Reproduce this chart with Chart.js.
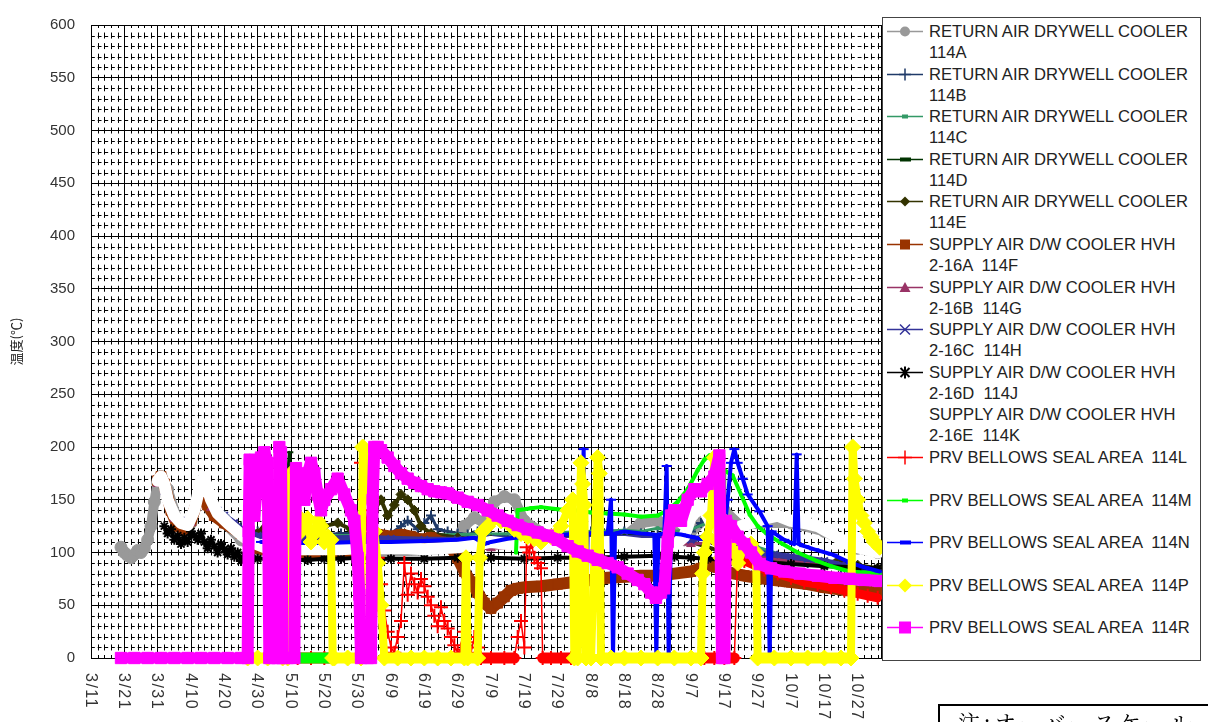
<!DOCTYPE html>
<html lang="ja">
<head>
<meta charset="UTF-8">
<title>温度(℃)</title>
<script src="https://cdn.jsdelivr.net/npm/chart.js"></script>
<style>
  html, body { margin: 0; padding: 0; background: #fff; overflow: hidden; }
  body { width: 1208px; height: 722px; position: relative; font-family: 'Liberation Sans', Arial, sans-serif; }
  #chart { position: absolute; left: 0; top: 0; }
  #legend { position: absolute; left: 882px; top: 17px; width: 319px; height: 644px; border: 1px solid #444; box-sizing: border-box; background: #fff; }
  .item { position: absolute; left: 4px; width: 310px; height: 42px; }
  .item svg { position: absolute; left: 0; top: 0; }
  .item span { position: absolute; left: 42px; top: 0; white-space: pre; font-size: 16.6px; line-height: 21px; color: #222; }
  #note { position: absolute; left: 938px; top: 704px; width: 300px; height: 40px; border: 2px solid #000; box-sizing: border-box;
          font-family: 'Noto Serif CJK JP', 'Noto Sans CJK JP', serif; font-size: 22px; line-height: 22px; letter-spacing: 3.4px;
          padding: 5px 0 0 18px; color: #000; white-space: nowrap; }
</style>
</head>
<body>
<canvas id="chart" width="1208" height="722"></canvas>
<div id="legend"></div>
<div id="note">注:オーバースケール</div>
<script>
// x axis = days since 3/11
const tickLabels = ['3/11','3/21','3/31','4/10','4/20','4/30','5/10','5/20','5/30','6/9','6/19','6/29',
                    '7/9','7/19','7/29','8/8','8/18','8/28','9/7','9/17','9/27','10/7','10/17','10/27'];
const tickDays = tickLabels.map((_, i) => i * 10);

const seriesNames = [
  'RETURN AIR DRYWELL COOLER\n114A',
  'RETURN AIR DRYWELL COOLER\n114B',
  'RETURN AIR DRYWELL COOLER\n114C',
  'RETURN AIR DRYWELL COOLER\n114D',
  'RETURN AIR DRYWELL COOLER\n114E',
  'SUPPLY AIR D/W COOLER HVH\n2-16A  114F',
  'SUPPLY AIR D/W COOLER HVH\n2-16B  114G',
  'SUPPLY AIR D/W COOLER HVH\n2-16C  114H',
  'SUPPLY AIR D/W COOLER HVH\n2-16D  114J',
  'SUPPLY AIR D/W COOLER HVH\n2-16E  114K',
  'PRV BELLOWS SEAL AREA  114L',
  'PRV BELLOWS SEAL AREA  114M',
  'PRV BELLOWS SEAL AREA  114N',
  'PRV BELLOWS SEAL AREA  114P',
  'PRV BELLOWS SEAL AREA  114R'
];

const days114A = [9,10,11,12,13,14,15,16,17,18,19,20,21,23,26,30,33,36,40,45,50,60,70,80,90,100,108,112,115,118,121,124,127,130,140,150,160,165,170,173,178,185,190,195,200,210,220,230,236];
const temp114A = [105,100,97,95,98,102,100,104,112,125,148,166,172,160,130,128,160,140,128,112,102,101,100,101,101,102,104,125,133,128,148,153,150,130,110,110,115,128,130,126,112,135,140,125,128,128,120,104,100];

const days114B = [40,45,50,55,60,65,70,75,80,85,88,90,93,95,98,100,102,104,107,110,113,116,120,125,130,135,140,145,150,155,160,165,170,175,180,183,185,188,190,193,196,200,205,210,215,220,225,230,236];
const temp114B = [135,124,120,118,119,115,117,118,118,120,115,118,125,130,122,128,135,122,120,118,117,120,116,115,114,115,115,118,120,118,120,118,117,116,120,128,135,145,130,120,110,100,95,92,90,88,85,83,80];

const days114C = [50,70,90,110,130,150,160,165,170,175,180,185,188,191,195,200,210,220,230,236];
const temp114C = [117,116,116,117,118,120,121,120,123,120,122,128,130,126,115,105,95,88,83,80];

const days114D = [45,50,55,57,58.5,59.5,60.5,62,66,70,80,90,100,110,120,130,140,150,160,170,180,190,200,210,220,230,236];
const temp114D = [118,115,116,120,150,195,150,116,115,114,115,114,115,113,114,114,115,115,116,116,115,112,100,93,88,84,82];

const days114E = [50,53,55,58,62,66,70,74,78,82,85,87,89,91,93,95,97,99,102,110,120,130,150,170,180,190,200,210,220,224,230,236];
const temp114E = [118,130,125,118,122,118,125,128,122,128,140,150,135,145,155,150,140,125,118,114,112,112,113,112,110,100,95,92,90,92,88,85];

const days114F = [20,21,22,24,26,28,30,32,33,35,37,40,45,50,55,60,70,78,80,84,90,93,96,99,102,105,108,110,112,114,116,118,120,122,124,126,128,130,135,140,145,150,155,160,165,170,175,180,183,185,188,190,193,196,200,205,210,215,220,225,230,236];
const temp114F = [168,172,165,140,125,122,130,150,165,145,135,128,118,104,101,100,100,101,122,118,115,117,115,112,114,110,105,95,82,72,62,52,47,52,58,64,66,67,68,70,72,74,76,77,78,78,80,82,85,88,86,82,80,78,76,74,72,70,67,65,63,62];

const days114G = [20,22,25,30,33,36,40,45,60,80,100,120,140,160,180,190,200,210,220,230,236];
const temp114G = [165,160,132,128,162,142,130,116,100,100,101,104,106,108,108,110,96,92,88,84,80];

const days114H = [22,24,26,28,30,32,34,36,38,40,43,46,50,60,70,80,90,100,110,120,130,140,150,160,170,180,185,190,195,200,205,210,215,220,225,230,236];
const temp114H = [158,145,132,130,135,155,165,148,140,135,128,120,116,114,113,114,113,112,112,113,112,112,113,114,113,112,115,118,105,100,98,96,94,92,88,85,82];

const days114J = [22,23,24,25,26,27,28,29,30,31,32,33,34,35,36,37,38,39,40,41,42,43,44,45,46,48,50,55,60,65,70,75,80,85,90,100,110,120,130,140,150,160,170,175,180,185,190,195,200,210,220,230,236];
const temp114J = [125,118,122,112,116,108,114,110,120,116,112,118,110,104,112,106,100,108,103,98,104,96,100,92,97,95,94,94,93,93,94,94,95,94,94,94,95,95,94,95,95,96,97,96,95,94,93,92,91,89,87,86,85];

const days114K = [20,21,22,23,25,27,29,31,33,34,36,38,41,45,48,52,56,60,65,70,75,80,85,90,95,100,105,110,115,120,125,130,135,140,145,150,155,160,165,170,175,178,180,182,184,186,188,190,192,195,198,202,206,210,214,218,222,226,230,236];
const temp114K = [168,172,165,150,135,128,126,140,168,170,150,137,128,117,110,105,104,103,103,103,103,104,104,104,104,103,104,105,107,110,108,106,107,108,108,109,110,110,108,108,107,115,135,145,140,128,120,115,112,125,128,132,135,130,128,125,118,110,105,100];

const days114L = [62,66,70,73,75,81,82,83,84,85,86,87,88,89,90,91,92,93,94,95,96,97,98,99,100,101,102,103,104,105,106,107,108,109,110,111,112,113,114,115,116,117,120,124,127,128,129,130,130.7,131.5,132,133,134,135,135.5,138,141,144,145,184,187,190,193,194,196,199,202,206,210,214,218,222,226,230,233,236];
const temp114L = [0,0,0,0,null,185,150,120,140,120,95,70,45,25,10,5,20,35,90,60,80,70,62,75,68,58,50,40,30,48,35,28,20,12,5,8,25,15,5,20,10,0,0,0,0,20,35,10,105,100,110,95,90,85,0,0,0,0,null,0,0,0,0,95,92,88,84,80,76,72,70,67,64,61,59,57];

const days114M = [62,66,70,73,75,127.5,128,132,135,140,145,150,155,160,165,170,173,176,179,182,184,185.6,188,189,189.5,190,192.5,195,197.6,200,203,207.5,212,217.7,222,227.6,232,236.6];
const temp114M = [0,0,0,0,null,100,140,142,143,141,140,138,137,136,134,135,140,148,160,178,188,192,185,180,0,178,173,155,136,125,117,108,100,92,87,82,81,80];

const days114N = [51,55,60,70,80,90,100,110,115,118,120,125,130,135,140,145,147,147.8,148.4,149,152,155,156,156.6,157.2,160,165,169,169.6,170.2,172,172.7,173.3,174,177,180,183,186,189,190,191,192,193,194,195.5,197,200.5,203,203.6,204.2,208,211,211.7,212.3,214,217,222.5,228,232,236.6];
const temp114N = [110,110,109,109,110,110,111,112,114,108,110,113,115,115,116,118,120,198,0,118,119,118,150,0,118,120,118,117,0,117,118,182,0,118,117,115,113,112,112,120,150,185,198,185,170,155,139,125,0,120,112,108,193,108,106,103,98,90,86,82];

const days114P = [47,50,53,53.5,57.5,59,59.5,60,61,62,63,64,65,66,67,68,69,70,71,72,72.5,73,77,81,81.5,82,83,84,85,86,87,88,92,96,100,104,108,112,112.5,113,116,116.6,117.5,119,121,123,125,127,129,131,133,135,138,141,143,144.5,145,146,147,147.5,148,148.5,150,152,152.5,153,156,160,165,170,175,180,183,183.5,184,185,186,187,187.5,188,189,190,191,192,193,194,196,198,199.5,200,205,210,215,220,225,228,228.5,229,230,231,232,233,234,235,236.6];
const temp114P = [0,0,0,null,0,0,150,175,160,135,120,125,132,110,118,130,125,110,115,112,0,0,0,0,200,198,180,150,120,90,50,0,0,0,0,0,0,0,95,0,0,95,120,125,133,130,128,122,118,115,113,110,115,125,140,150,0,0,185,165,145,0,0,190,175,0,0,0,0,0,0,0,0,80,100,115,135,190,150,110,95,130,120,110,100,90,105,108,100,0,0,0,0,0,0,0,200,170,150,135,128,120,115,110,105];

const days114R = [9,13,17,21,25,29,33,37,41,45,47,47.3,47.6,48,49,50,51,52,53,53.5,55,56,56.5,57,57.5,59,61,61.5,62,63,64,65,66,67,68,69,70,72,74,76,78,79,80,80.5,81,83,84,84.5,85,86,87,89,91,93,95,97,99,101,103,105,107,110,113,116,119,122,125,128,131,134,137,140,143,146,149,152,155,158,161,164,166,168,169.5,171,172,173,174,175,177,179,181,183,185,187,188.5,189.3,190,190.5,192,194,196,198,200.6,204,208,212.6,218,223,227.6,232,236.6];
const temp114R = [0,0,0,0,0,0,0,0,0,0,0,120,188,150,135,170,190,195,185,0,0,0,200,195,0,0,0,180,160,170,150,175,185,175,155,140,150,160,170,155,140,130,95,60,0,0,0,150,200,200,197,190,182,175,170,166,163,160,158,157,156,152,148,145,140,135,130,126,122,119,116,112,106,101,97,93,90,86,80,74,70,62,57,62,66,110,135,140,130,150,160,158,165,172,192,0,0,130,125,115,108,100,89,85,82,80,78,76,75,74,73];

const seriesDays = [days114A, days114B, days114C, days114D, days114E, days114F, days114G, days114H, days114J, days114K, days114L, days114M, days114N, days114P, days114R];
const seriesTemps = [temp114A, temp114B, temp114C, temp114D, temp114E, temp114F, temp114G, temp114H, temp114J, temp114K, temp114L, temp114M, temp114N, temp114P, temp114R];

// look of each series: colour, marker, line width, marker radius
const styles = [
  { color: '#999999', point: 'circle',   width: 10, radius: 6 },
  { color: '#1F3A68', point: 'cross',    width: 3,  radius: 5 },
  { color: '#339966', point: 'rect',     width: 3,  radius: 2 },
  { color: '#003300', point: 'line',     width: 3,  radius: 4 },
  { color: '#333300', point: 'rectRot',  width: 4,  radius: 5 },
  { color: '#993300', point: 'rect',     width: 12, radius: 7 },
  { color: '#993366', point: 'triangle', width: 3,  radius: 5 },
  { color: '#333399', point: 'crossRot', width: 6,  radius: 5 },
  { color: '#000000', point: 'star',     width: 4,  radius: 5 },
  { color: '#FFFFFF', point: 'circle',   width: 12, radius: 0 },
  { color: '#FF0000', point: 'cross',    width: 1.5, radius: 7 },
  { color: '#00FF00', point: 'rect',     width: 4,  radius: 2 },
  { color: '#0000FF', point: 'line',     width: 4,  radius: 5 },
  { color: '#FFFF00', point: 'rectRot',  width: 8,  radius: 8 },
  { color: '#FF00FF', point: 'rect',     width: 12, radius: 8 }
];

function segWidth(st, i) {
  return c => {
    if (c.p0.parsed.y === 0 && c.p1.parsed.y === 0) return 11;   // zero readings lie as a thick bar
    if (i === 10 && c.p0.parsed.x >= 194) return 9;               // dense red readings after 9/17
    return st.width;
  };
}

const datasets = seriesNames.map((name, i) => {
  const st = styles[i];
  return {
    label: name.replace('\n', ' '),
    data: seriesDays[i].map((d, k) => ({ x: d, y: seriesTemps[i][k] })),
    borderColor: st.color,
    backgroundColor: st.color,
    borderWidth: st.width,
    borderJoinStyle: 'round',
    borderCapStyle: 'round',
    pointStyle: st.point,
    pointRadius: st.radius,
    pointBorderWidth: (st.point === 'line' || st.point === 'cross' || st.point === 'crossRot' || st.point === 'star') ? 2 : 1,
    pointBackgroundColor: st.color,
    pointBorderColor: st.color,
    tension: 0,
    spanGaps: false,
    clip: false,
    order: seriesNames.length - i,
    segment: { borderWidth: segWidth(st, i) }
  };
});

// dashed minor grid (every 10 degC / every 2 days)
const minorGrid = {
  id: 'minorGrid',
  beforeDatasetsDraw(chart) {
    const { ctx, chartArea: a, scales: { x, y } } = chart;
    const dayPx = x.getPixelForValue(2) - x.getPixelForValue(0);
    const rowPx = y.getPixelForValue(0) - y.getPixelForValue(10);
    ctx.save();
    ctx.strokeStyle = '#000';
    ctx.lineWidth = 1;
    // horizontal dashes
    ctx.setLineDash([dayPx / 2 + 0.5, dayPx / 2 - 0.5]);
    ctx.lineDashOffset = 0;
    ctx.beginPath();
    for (let v = 10; v < 600; v += 10) {
      if (v % 50 === 0) continue;
      const py = Math.round(y.getPixelForValue(v)) + 0.5;
      ctx.moveTo(a.left, py);
      ctx.lineTo(a.right, py);
    }
    ctx.stroke();
    // vertical dashes, centred on each row line
    ctx.setLineDash([6, rowPx - 6]);
    ctx.lineDashOffset = 3;
    ctx.beginPath();
    for (let d = 2; d < x.max; d += 2) {
      if (d % 10 === 0) continue;
      const px = Math.round(x.getPixelForValue(d)) + 0.5;
      ctx.moveTo(px, a.top);
      ctx.lineTo(px, a.bottom);
    }
    ctx.stroke();
    ctx.restore();
  }
};

// date labels written top-to-bottom
const dateLabels = {
  id: 'dateLabels',
  afterDraw(chart) {
    const { ctx, scales: { x } } = chart;
    ctx.save();
    ctx.fillStyle = '#333';
    ctx.font = '16px "Liberation Sans", Arial, sans-serif';
    ctx.letterSpacing = '1.5px';
    ctx.textAlign = 'left';
    ctx.textBaseline = 'middle';
    tickLabels.forEach((t, i) => {
      const px = x.getPixelForValue(tickDays[i]);
      ctx.save();
      ctx.translate(px - 1, 673);
      ctx.rotate(Math.PI / 2);
      ctx.fillText(t, 0, 0);
      ctx.restore();
    });
    ctx.restore();
  }
};

new Chart(document.getElementById('chart'), {
  type: 'line',
  data: { datasets: datasets },
  options: {
    responsive: false,
    animation: false,
    devicePixelRatio: 1,
    layout: { padding: { top: 17, right: 327, left: 0, bottom: 0 } },
    plugins: { legend: { display: false }, tooltip: { enabled: false } },
    scales: {
      x: {
        type: 'linear',
        min: 0,
        max: 237,
        ticks: { display: false, stepSize: 10 },
        grid: { color: '#000', lineWidth: 1, drawTicks: false },
        border: { color: '#000', width: 1 },
        afterFit: s => { s.height = 64; }
      },
      y: {
        min: 0,
        max: 600,
        ticks: { stepSize: 50, padding: 16, color: '#333', font: { family: '"Liberation Sans", Arial, sans-serif', size: 15 } },
        grid: { color: '#000', lineWidth: 1, drawTicks: false },
        border: { color: '#000', width: 1 },
        title: { display: true, text: '温度(℃)', color: '#222', padding: { top: 8, bottom: 0 },
                 font: { family: '"Noto Sans CJK JP", sans-serif', size: 13 } },
        afterFit: s => { s.width = 91; }
      }
    }
  },
  plugins: [minorGrid, dateLabels]
});

// legend with line + marker samples
function markerSvg(st) {
  const c = st.color;
  let m = '';
  switch (st.point) {
    case 'circle': m = st.radius ? `<circle cx="18" cy="10.5" r="5" fill="${c}"/>` : ''; break;
    case 'cross': {
      const h = st.radius > 5 ? 7 : 6;
      m = `<path d="M${18 - h} 10.5H${18 + h}M18 ${10.5 - h}V${10.5 + h}" stroke="${c}" stroke-width="1.5"/>`; break;
    }
    case 'rect': {
      const s = st.radius > 4 ? (st.radius > 7 ? 12 : 10) : 6;
      const hgt = st.radius > 4 ? s : 4;
      m = `<rect x="${18 - s / 2}" y="${10.5 - hgt / 2}" width="${s}" height="${hgt}" fill="${c}"/>`; break;
    }
    case 'line': m = `<rect x="13" y="8.5" width="11" height="4" fill="${c}"/>`; break;
    case 'rectRot': {
      const r = st.radius > 6 ? 7 : 5;
      m = `<path d="M18 ${10.5 - r}L${18 + r} 10.5L18 ${10.5 + r}L${18 - r} 10.5Z" fill="${c}"/>`; break;
    }
    case 'triangle': m = `<path d="M18 5L23.5 15H12.5Z" fill="${c}"/>`; break;
    case 'crossRot': m = `<path d="M13 5.5L23 15.5M23 5.5L13 15.5" stroke="${c}" stroke-width="1.5"/>`; break;
    case 'star': m = `<path d="M13.5 6L22.5 15M22.5 6L13.5 15M18 4.5V16.5" stroke="${c}" stroke-width="2"/>`; break;
  }
  return `<svg width="36" height="21"><line x1="0" y1="10.5" x2="36" y2="10.5" stroke="${c}" stroke-width="1.5"/>${m}</svg>`;
}

const legendBox = document.getElementById('legend');
seriesNames.forEach((name, i) => {
  const item = document.createElement('div');
  item.className = 'item';
  item.style.top = (3 + i * 42.6) + 'px';
  item.innerHTML = markerSvg(styles[i]);
  const span = document.createElement('span');
  span.textContent = name;
  item.appendChild(span);
  legendBox.appendChild(item);
});
</script>
</body>
</html>
